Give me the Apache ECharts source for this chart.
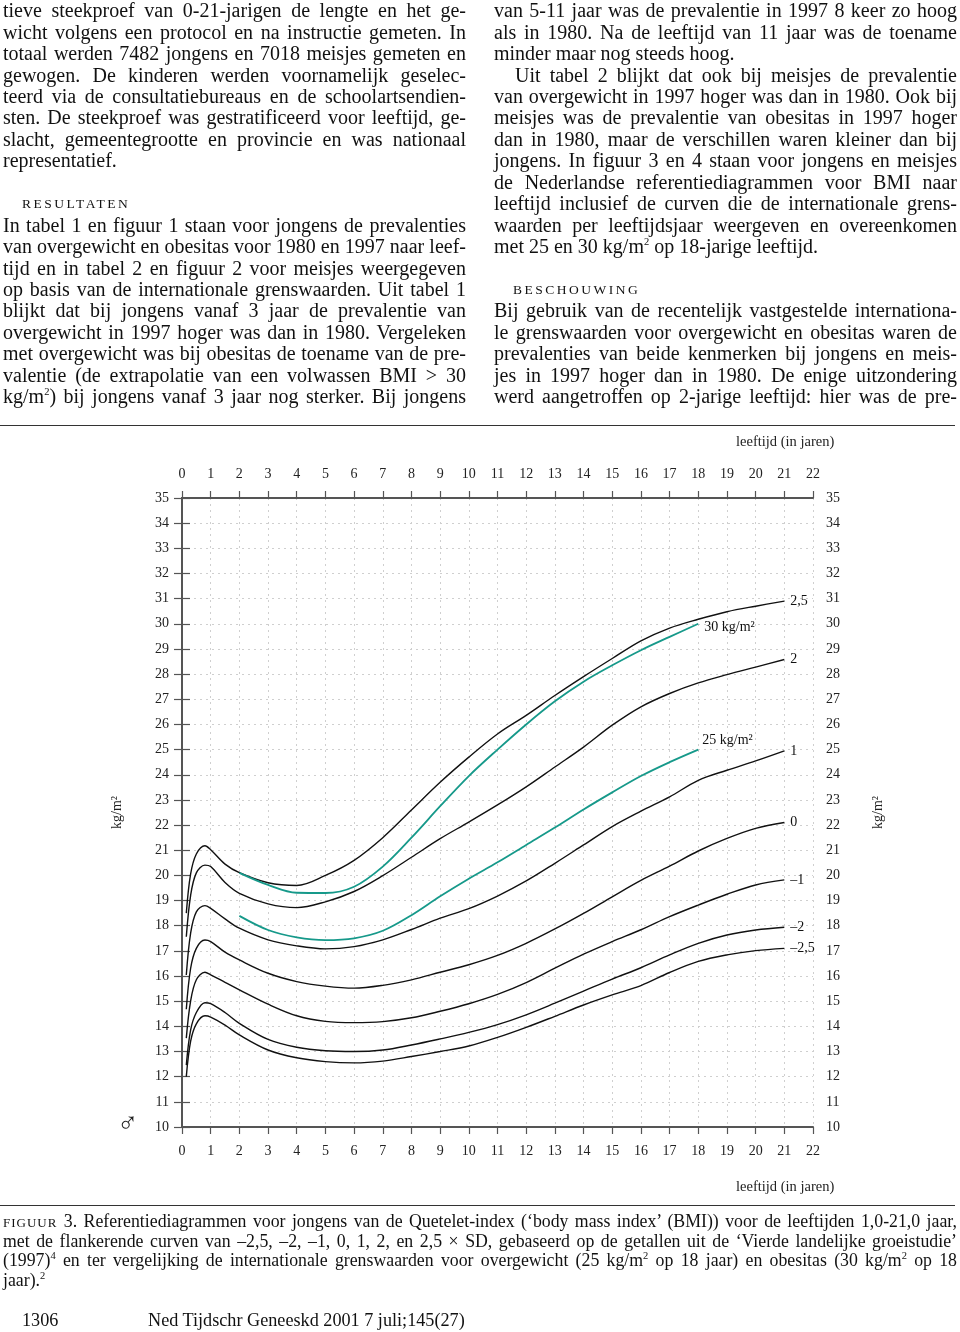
<!DOCTYPE html>
<html>
<head>
<meta charset="utf-8">
<script src="https://cdn.jsdelivr.net/npm/echarts@6/dist/echarts.min.js"></script>
<style>
  html, body { margin: 0; padding: 0; background: #fff; }
  #page { position: relative; width: 960px; height: 1332px; overflow: hidden; }
  #chart { position: absolute; left: 0; top: 0; width: 960px; height: 1332px; }
  .col { position: absolute; top: 0.3px; width: 463px; font-family: 'Liberation Serif', 'DejaVu Serif', serif;
         font-size: 20px; line-height: 21.43px; color: #111; }
  .col div { white-space: nowrap; text-align: justify; text-align-last: justify; }
  .col div.last { text-align-last: left; }
  .col div.head { text-align-last: left; font-size: 13.5px; letter-spacing: 2.5px; padding-left: 19px; }
  .cap { position: absolute; left: 3px; top: 1211.5px; width: 954px; font-family: 'Liberation Serif', 'DejaVu Serif', serif;
         font-size: 17.8px; line-height: 19.4px; color: #111; }
  .cap div { white-space: nowrap; text-align: justify; text-align-last: justify; }
  .cap div.last { text-align-last: left; }
  .sc { font-size: 13px; letter-spacing: 1px; }
  .rule { position: absolute; left: 0; width: 955px; height: 1px; background: #333; }
  .foot { position: absolute; top: 1310px; font-family: 'Liberation Serif', 'DejaVu Serif', serif; font-size: 18.2px; color: #111; }
  sup { font-size: 10.5px; line-height: 0; }
</style>
</head>
<body>
<div id="page">
  <div id="chart"></div>

  <div class="col" style="left:3px">
    <div>tieve steekproef van 0-21-jarigen de lengte en het ge-</div>
    <div>wicht volgens een protocol en na instructie gemeten. In</div>
    <div>totaal werden 7482 jongens en 7018 meisjes gemeten en</div>
    <div>gewogen. De kinderen werden voornamelijk geselec-</div>
    <div>teerd via de consultatiebureaus en de schoolartsendien-</div>
    <div>sten. De steekproef was gestratificeerd voor leeftijd, ge-</div>
    <div>slacht, gemeentegrootte en provincie en was nationaal</div>
    <div class="last">representatief.</div>
    <div class="last">&nbsp;</div>
    <div class="head">RESULTATEN</div>
    <div>In tabel 1 en figuur 1 staan voor jongens de prevalenties</div>
    <div>van overgewicht en obesitas voor 1980 en 1997 naar leef-</div>
    <div>tijd en in tabel 2 en figuur 2 voor meisjes weergegeven</div>
    <div>op basis van de internationale grenswaarden. Uit tabel 1</div>
    <div>blijkt dat bij jongens vanaf 3 jaar de prevalentie van</div>
    <div>overgewicht in 1997 hoger was dan in 1980. Vergeleken</div>
    <div>met overgewicht was bij obesitas de toename van de pre-</div>
    <div>valentie (de extrapolatie van een volwassen BMI &gt; 30</div>
    <div>kg/m<sup>2</sup>) bij jongens vanaf 3 jaar nog sterker. Bij jongens</div>
  </div>

  <div class="col" style="left:494px">
    <div>van 5-11 jaar was de prevalentie in 1997 8 keer zo hoog</div>
    <div>als in 1980. Na de leeftijd van 11 jaar was de toename</div>
    <div class="last">minder maar nog steeds hoog.</div>
    <div style="padding-left:21px">Uit tabel 2 blijkt dat ook bij meisjes de prevalentie</div>
    <div>van overgewicht in 1997 hoger was dan in 1980. Ook bij</div>
    <div>meisjes was de prevalentie van obesitas in 1997 hoger</div>
    <div>dan in 1980, maar de verschillen waren kleiner dan bij</div>
    <div>jongens. In figuur 3 en 4 staan voor jongens en meisjes</div>
    <div>de Nederlandse referentiediagrammen voor BMI naar</div>
    <div>leeftijd inclusief de curven die de internationale grens-</div>
    <div>waarden per leeftijdsjaar weergeven en overeenkomen</div>
    <div class="last">met 25 en 30 kg/m<sup>2</sup> op 18-jarige leeftijd.</div>
    <div class="last">&nbsp;</div>
    <div class="head">BESCHOUWING</div>
    <div>Bij gebruik van de recentelijk vastgestelde internationa-</div>
    <div>le grenswaarden voor overgewicht en obesitas waren de</div>
    <div>prevalenties van beide kenmerken bij jongens en meis-</div>
    <div>jes in 1997 hoger dan in 1980. De enige uitzondering</div>
    <div>werd aangetroffen op 2-jarige leeftijd: hier was de pre-</div>
  </div>

  <div class="rule" style="top:425px"></div>
  <div class="rule" style="top:1205px"></div>

  <div class="cap">
    <div><span class="sc">FIGUUR</span> 3. Referentiediagrammen voor jongens van de Quetelet-index (‘body mass index’ (BMI)) voor de leeftijden 1,0-21,0 jaar,</div>
    <div>met de flankerende curven van –2,5, –2, –1, 0, 1, 2, en 2,5 × SD, gebaseerd op de getallen uit de ‘Vierde landelijke groeistudie’</div>
    <div>(1997)<sup>4</sup> en ter vergelijking de internationale grenswaarden voor overgewicht (25 kg/m<sup>2</sup> op 18 jaar) en obesitas (30 kg/m<sup>2</sup> op 18</div>
    <div class="last">jaar).<sup>2</sup></div>
  </div>

  <div class="foot" style="left:22px">1306</div>
  <div class="foot" style="left:148px">Ned Tijdschr Geneeskd 2001 7 juli;145(27)</div>
</div>

<script>
// leeftijd in jaren
var ages = [0.15, 0.3, 0.5, 0.8, 1, 1.5, 2, 3, 4, 5, 6, 7, 8, 9, 10, 11, 12, 13, 14, 15, 16, 17, 18, 19, 20, 21];
// BMI per SD-lijn
var sdP25 = [18.5, 20.05, 20.85, 21.18, 21.02, 20.45, 20.11, 19.71, 19.6, 20.0, 20.6, 21.5, 22.6, 23.7, 24.7, 25.62, 26.36, 27.15, 27.9, 28.62, 29.32, 29.83, 30.18, 30.48, 30.7, 30.9];
var sdP2  = [17.56, 19.2, 20.1, 20.41, 20.35, 19.72, 19.29, 18.87, 18.72, 18.95, 19.36, 19.99, 20.72, 21.46, 22.12, 22.8, 23.52, 24.31, 25.1, 25.97, 26.7, 27.23, 27.65, 27.98, 28.28, 28.58];
var sdP1  = [16.04, 17.7, 18.55, 18.8, 18.69, 18.27, 17.9, 17.44, 17.2, 17.08, 17.17, 17.44, 17.85, 18.3, 18.68, 19.18, 19.78, 20.48, 21.21, 21.94, 22.55, 23.12, 23.78, 24.18, 24.55, 24.95];
var sd0   = [14.68, 16.3, 17.1, 17.43, 17.37, 16.95, 16.64, 16.11, 15.78, 15.6, 15.52, 15.63, 15.85, 16.15, 16.45, 16.82, 17.3, 17.87, 18.49, 19.15, 19.8, 20.37, 20.97, 21.47, 21.87, 22.1];
var sdM1  = [13.53, 15.0, 15.85, 16.15, 16.05, 15.75, 15.45, 14.88, 14.42, 14.2, 14.15, 14.19, 14.34, 14.6, 14.9, 15.27, 15.74, 16.31, 16.87, 17.37, 17.84, 18.36, 18.82, 19.25, 19.62, 19.82];
var sdM2  = [12.46, 13.85, 14.55, 14.94, 14.9, 14.55, 14.12, 13.48, 13.17, 13.03, 13.0, 13.06, 13.26, 13.5, 13.76, 14.07, 14.46, 14.92, 15.4, 15.88, 16.33, 16.84, 17.3, 17.63, 17.83, 17.94];
var sdM25 = [12.0, 13.4, 14.1, 14.42, 14.37, 14.05, 13.66, 13.06, 12.75, 12.6, 12.55, 12.62, 12.8, 13.0, 13.22, 13.56, 13.96, 14.4, 14.85, 15.25, 15.62, 16.14, 16.58, 16.84, 17.01, 17.1];
// internationale grenswaarden
var cutAges = [2, 3, 4, 5, 6, 7, 8, 9, 10, 11, 12, 13, 14, 15, 16, 17, 18];
var cut30 = [20.1, 19.62, 19.31, 19.3, 19.55, 20.35, 21.5, 22.75, 23.95, 25.0, 26.0, 26.92, 27.7, 28.35, 28.95, 29.48, 30.0];
var cut25 = [18.39, 17.83, 17.54, 17.43, 17.5, 17.8, 18.42, 19.17, 19.87, 20.52, 21.21, 21.9, 22.62, 23.3, 23.95, 24.5, 25.0];

var sdLines = [
    { name: '2,5', values: sdP25 },
    { name: '2', values: sdP2 },
    { name: '1', values: sdP1 },
    { name: '0', values: sd0 },
    { name: '–1', values: sdM1 },
    { name: '–2', values: sdM2 },
    { name: '–2,5', values: sdM25 }
];

var serif = "'Liberation Serif', 'DejaVu Serif', serif";
var teal = '#16998a';

function pairs(xs, ys) {
    return xs.map(function (x, i) { return [x, ys[i]]; });
}

var series = sdLines.map(function (s) {
    return {
        name: s.name,
        type: 'line',
        data: pairs(ages, s.values),
        smooth: 0.35,
        showSymbol: false,
        lineStyle: { color: '#111', width: 1.4 },
        endLabel: { show: true, formatter: s.name, distance: 6, color: '#111', fontFamily: serif, fontSize: 14 }
    };
});
series.push({
    name: '30 kg/m²', type: 'line', data: pairs(cutAges, cut30), smooth: 0.35, showSymbol: false,
    lineStyle: { color: teal, width: 1.8 }, z: 3,
    endLabel: { show: true, formatter: '30 kg/m²', distance: 6, offset: [0, 4], color: '#111', fontFamily: serif, fontSize: 14 }
});
series.push({
    name: '25 kg/m²', type: 'line', data: pairs(cutAges, cut25), smooth: 0.35, showSymbol: false,
    lineStyle: { color: teal, width: 1.8 }, z: 3,
    endLabel: { show: true, formatter: '25 kg/m²', distance: 4, offset: [0, -9], color: '#111', fontFamily: serif, fontSize: 14 }
});

var axisLine = { show: true, lineStyle: { color: '#555', width: 2 } };
var dotted = { show: true, lineStyle: { color: '#cfcfcf', type: [2, 4], width: 1 } };
var tickLabel = { color: '#222', fontFamily: serif, fontSize: 14 };

function xAx(pos, grid) {
    return {
        type: 'value', position: pos, min: 0, max: 22, interval: 1,
        axisLine: axisLine,
        axisTick: { show: true, inside: false, length: 7, lineStyle: { color: '#555', width: 1.2 } },
        axisLabel: Object.assign({ margin: 17 }, tickLabel),
        splitLine: grid ? dotted : { show: false }
    };
}
function yAx(pos, grid) {
    return {
        type: 'value', position: pos, min: 10, max: 35, interval: 1,
        name: 'kg/m²', nameLocation: 'middle', nameGap: 58, nameRotate: 90,
        nameTextStyle: { color: '#222', fontFamily: serif, fontSize: 14 },
        axisLine: axisLine,
        axisTick: { show: true, inside: false, length: 8, lineStyle: { color: '#555', width: 1.2 } },
        axisLabel: Object.assign({ margin: 13 }, tickLabel),
        splitLine: grid ? dotted : { show: false }
    };
}

var myChart = echarts.init(document.getElementById('chart'));
option = {
    animation: false,
    backgroundColor: 'transparent',
    grid: { left: 182, right: 147, top: 498, bottom: 205, outerBoundsMode: 'none' },
    xAxis: [xAx('bottom', true), xAx('top', false)],
    yAxis: [yAx('left', true), yAx('right', false)],
    graphic: [
        { type: 'text', left: 736, top: 435, style: { text: 'leeftijd (in jaren)', fill: '#222', font: '14.5px ' + serif } },
        { type: 'text', left: 736, top: 1180, style: { text: 'leeftijd (in jaren)', fill: '#222', font: '14.5px ' + serif } },
        { type: 'text', left: 117, top: 1111, style: { text: '♂', fill: '#222', font: '28px ' + serif } }
    ],
    series: series
};
myChart.setOption(option);
</script>
</body>
</html>
